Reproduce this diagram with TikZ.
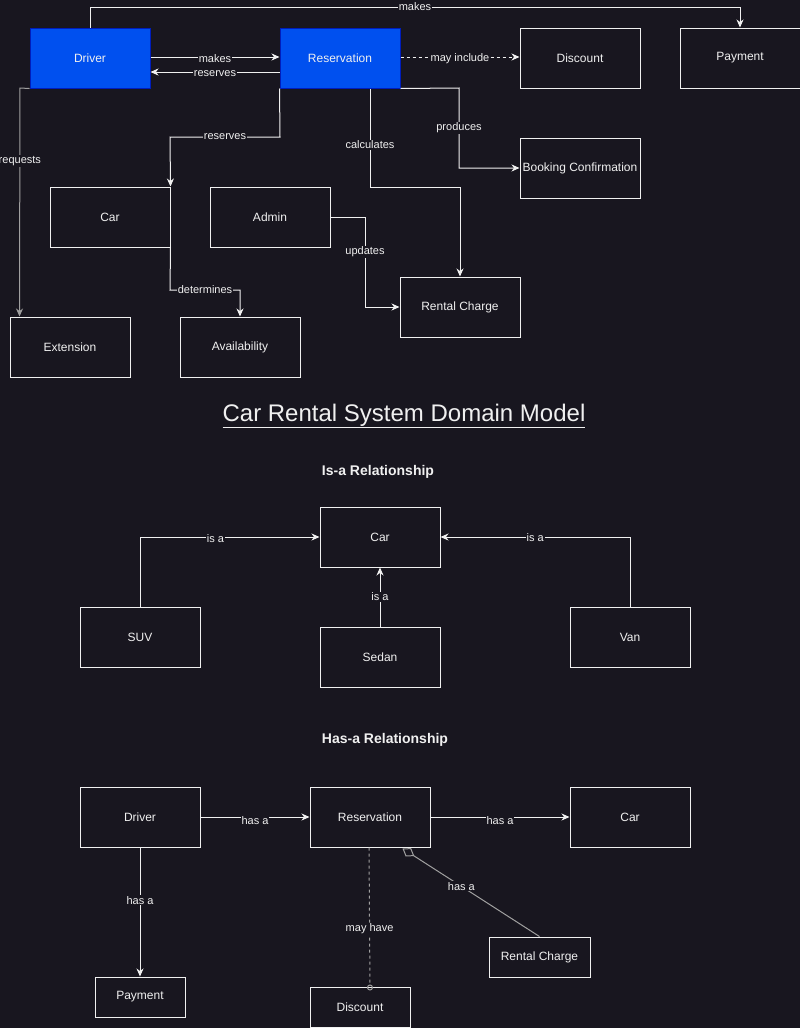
\documentclass[tikz,border=0pt]{standalone}
\usepackage{fontspec}
\setmainfont{Liberation Sans}
\usetikzlibrary{arrows.meta}
\definecolor{bgc}{HTML}{18161F}
\definecolor{fgc}{HTML}{F0F0F0}
\definecolor{blu}{HTML}{0050EF}
\definecolor{bluedge}{HTML}{001DBC}
\definecolor{grayline}{HTML}{A0A0A0}
\tikzset{
  box/.style={draw=fgc, line width=1pt, minimum width=120pt, minimum height=60pt, inner sep=0pt, text=fgc, font=\fontsize{12}{14}\selectfont},
  bluebox/.style={box, fill=blu, draw=bluedge},
  lbl/.style={fill=bgc, text=fgc, inner sep=1pt, font=\fontsize{11}{13}\selectfont},
  arr/.style={draw=fgc, line width=1pt, -{Stealth[length=8pt,width=7pt,inset=2.5pt]}},
  heading/.style={text=fgc, font=\fontsize{14}{16}\selectfont\bfseries},
}
\begin{document}
\begin{tikzpicture}[x=1pt,y=-1pt]
\fill[bgc] (0,0) rectangle (800,1028);
\useasboundingbox (0,0) rectangle (800,1028);

% ---- top section ----
\node[bluebox] (d1) at (90,58) {Driver};
\node[bluebox] (res1) at (340,58) {Reservation};
\node[box] (disc1) at (580,58) {Discount};
\node[box] (pay1) at (740,58) {Payment};
\node[box] (book1) at (580,168) {Booking Confirmation};
\node[box] (car1) at (110,217) {Car};
\node[box] (adm1) at (270,217) {Admin};
\node[box] (rc1) at (460,307) {Rental Charge};
\node[box] (ext1) at (70,347) {Extension};
\node[box] (av1) at (240,347) {Availability};

\draw[arr] (d1.north) -- (90,7) -- node[lbl]{makes} (740,7) -- (pay1.north);
\draw[arr] ([yshift=1pt]d1.east) -- node[lbl,yshift=-2pt]{makes} ([yshift=1pt]res1.west);
\draw[arr] ([yshift=-14pt]res1.west) -- node[lbl,yshift=-2pt]{reserves} ([yshift=-14pt]d1.east);
\draw[arr,dashed] ([yshift=1pt]res1.east) -- node[lbl,yshift=-2pt]{may include} ([yshift=1pt]disc1.west);
\draw[arr] (res1.south east) -- (459,88) -- node[lbl]{produces} (459,168) -- (book1.west);
\draw[arr] ([xshift=30pt]res1.south) -- node[lbl,pos=0.57]{calculates} (370,187) -- (460,187) -- (rc1.north);
\draw[arr] (res1.south west) -- (280,137) -- node[lbl]{reserves} (170,137) -- (car1.north east);
\draw[arr,draw=grayline] (d1.south west) -- (20,88) -- node[lbl,pos=0.32]{requests} ([xshift=10pt]ext1.north west);
\draw[arr] (car1.south east) -- (170,290) -- node[lbl]{determines} (240,290) -- (av1.north);
\draw[arr] (adm1.east) -- (365,217) -- node[lbl,pos=0.39]{updates} (365,307) -- (rc1.west);

% ---- title ----
\node[text=fgc, font=\fontsize{24}{28}\selectfont] (title) at (404,416) {\underline{Car Rental System Domain Model}};

% ---- is-a ----
\node[heading] (isa) at (378,472) {Is-a Relationship};
\node[box] (car2) at (380,537) {Car};
\node[box] (suv) at (140,637) {SUV};
\node[box] (sedan) at (380,657) {Sedan};
\node[box] (van) at (630,637) {Van};
\draw[arr] (suv.north) -- (140,537) -- node[lbl,pos=0.42,yshift=-2pt]{is a} (car2.west);
\draw[arr] (van.north) -- (630,537) -- node[lbl,yshift=-1pt]{is a} (car2.east);
\draw[arr] (sedan.north) -- node[lbl]{is a} (car2.south);

% ---- has-a ----
\node[heading] (hasa) at (385,740) {Has-a Relationship};
\node[box] (d3) at (140,817) {Driver};
\node[box] (r3) at (370,817) {Reservation};
\node[box] (c3) at (630,817) {Car};
\node[box, minimum width=90pt, minimum height=40pt] (p3) at (140,997) {Payment};
\node[box, minimum width=100pt, minimum height=40pt] (disc3) at (360,1007) {Discount};
\node[box, minimum width=101pt, minimum height=40pt] (rc3) at (539.5,957) {Rental Charge};

\draw[arr] (d3.east) -- node[lbl,yshift=-4pt]{has a} (r3.west);
\draw[arr] (r3.east) -- node[lbl,yshift=-4pt]{has a} (c3.west);
\draw[arr] (d3.south) -- node[lbl,pos=0.41]{has a} (p3.north);
\draw[draw=grayline, line width=1pt, dashed, -{Circle[open,length=6pt,width=6pt]}] ([xshift=-1pt]r3.south) -- node[lbl,pos=0.57]{may have} ([xshift=10pt,yshift=-4pt]disc3.north);
\draw[draw=grayline, line width=1pt, -{Diamond[open,length=14pt,width=10pt]}] (rc3.north) -- node[lbl,pos=0.57]{has a} ([xshift=-28pt,yshift=-1pt]r3.south east);
\end{tikzpicture}
\end{document}
